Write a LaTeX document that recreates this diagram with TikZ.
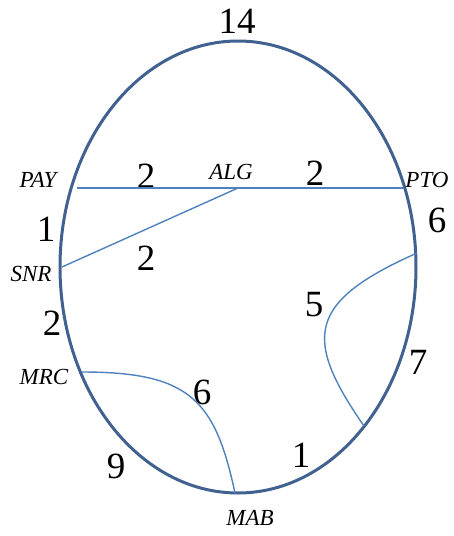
\documentclass[tikz,border=0pt]{standalone}
\usepackage{fontspec}
\setmainfont{Liberation Serif}
\usetikzlibrary{positioning}
\definecolor{ringblue}{RGB}{65,97,145}
\definecolor{linkblue}{RGB}{79,129,189}

\begin{document}
\begin{tikzpicture}[x=1pt, y=-1pt,
  ring/.style={draw=ringblue, line width=3pt},
  link/.style={draw=linkblue, line width=1.4pt},
  weight/.style={inner sep=0pt, font=\fontsize{37}{37}\selectfont},
  site/.style={inner sep=0pt, font=\fontsize{23}{23}\selectfont\itshape}]
  \useasboundingbox (0,0) rectangle (453,536);

  % the ring
  \draw[ring] (238,267) ellipse [x radius=178pt, y radius=226pt];

  % points on the ring and inside
  \coordinate (PAY) at (77,188);
  \coordinate (ALG) at (238,188);
  \coordinate (PTO) at (403,188);
  \coordinate (SNR) at (62,267);
  \coordinate (MRC) at (82,372);
  \coordinate (MAB) at (235,493);
  \coordinate (rtop) at (417,253);
  \coordinate (rbot) at (364,426);

  % site labels
  \node[site] (lPAY) at (38,180)  {PAY};
  \node[site] (lALG) at (231,172) {ALG};
  \node[site] (lPTO) at (427,180) {PTO};
  \node[site] (lSNR) at (31,274)  {SNR};
  \node[site] (lMRC) at (44,377)  {MRC};
  \node[site] (lMAB) at (250,518) {MAB};

  % weights
  \node[weight] (w14)  at (237,21)  {14};
  \node[weight] (wPA)  at (146,176) {2};
  \node[weight] (wAP)  at (315,173) {2};
  \node[weight] (wPT)  at (437,220) {6};
  \node[weight] (wPS)  at (46,229)  {1};
  \node[weight] (wAS)  at (146,258) {2};
  \node[weight] (wSM)  at (52,323)  {2};
  \node[weight] (wR)   at (314,305) {5};
  \node[weight] (wRB)  at (418,362) {7};
  \node[weight] (wMM)  at (202,392) {6};
  \node[weight] (wMA)  at (116,466) {9};
  \node[weight] (wAB)  at (301,455) {1};

  \draw[link] (PAY) -- (ALG) -- (PTO);
  \draw[link] (ALG) -- (SNR);
  \draw[link] (rtop) .. controls (307,302) and (303,338) .. (rbot);
  \draw[link] (MRC) .. controls (190,372) and (215,400) .. (MAB);
\end{tikzpicture}
\end{document}
